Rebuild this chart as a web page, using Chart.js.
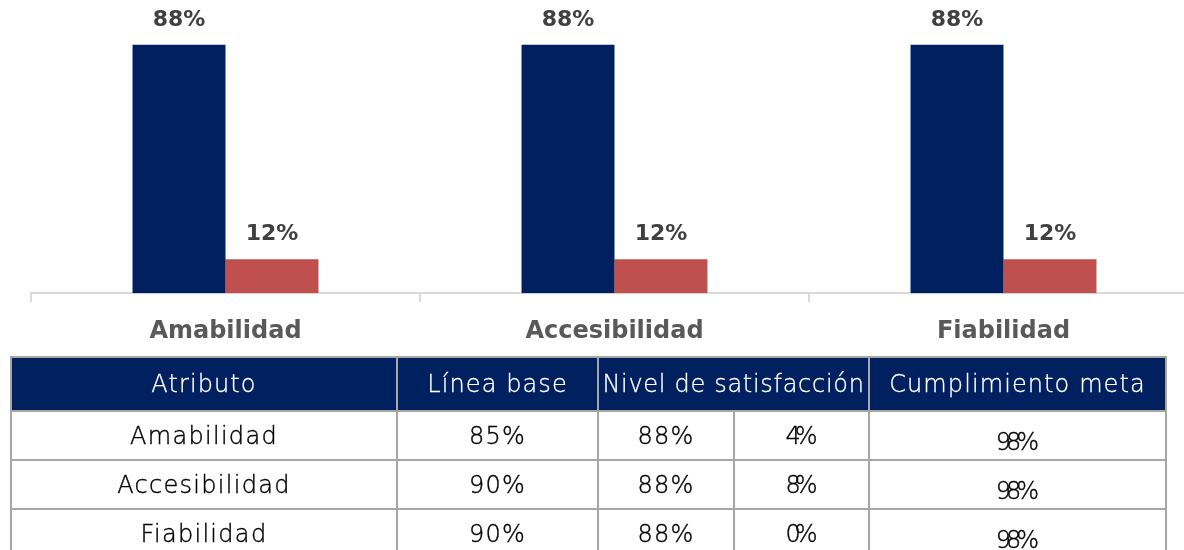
<!DOCTYPE html>
<html>
<head>
<meta charset="utf-8">
<script src="https://cdn.jsdelivr.net/npm/chart.js@4/dist/chart.umd.min.js"></script>
<style>
  html, body { margin:0; padding:0; background:#fff; overflow:hidden; width:1184px; height:550px; }
  #wrap { position:absolute; left:0; top:0; width:1200px; height:370px; }
  table { position:absolute; left:10px; top:356px; border-collapse:collapse; table-layout:fixed;
          font-family:"DejaVu Sans", sans-serif; font-weight:200; font-size:24px; letter-spacing:1.3px; color:#000; }
  td, th { border:2px solid #a6a6a6; text-align:center; padding:0; white-space:nowrap; font-weight:200; }
  td { -webkit-text-stroke:0.4px #000; height:47px; }
  th { background:#002060; color:#fff; height:52px; letter-spacing:1.1px; -webkit-text-stroke:0.3px #fff; }
  td.sq { letter-spacing:-6px; padding-right:6px; }
  td.low { letter-spacing:-5px; padding-right:5px; padding-top:12px; height:35px; }
</style>
</head>
<body>
<div id="wrap"><canvas id="c"></canvas></div>
<table id="t"></table>
<script>
// ---- chart data ----
const categories = ["Amabilidad", "Accesibilidad", "Fiabilidad"];
const satisfechos = [0.88, 0.88, 0.88];
const noSatisfechos = [0.12, 0.12, 0.12];

// ---- table data ----
const tableHeaders = ["Atributo", "Línea base", "Nivel de satisfacción", "Cumplimiento meta"];
const atributos = ["Amabilidad", "Accesibilidad", "Fiabilidad"];
const lineaBase = ["85%", "90%", "90%"];
const nivelSatisfaccion = ["88%", "88%", "88%"];
const diferencia = ["4%", "8%", "0%"];
const cumplimientoMeta = ["98%", "98%", "98%"];

const valueLabels = {
  id: 'valueLabels',
  afterDatasetsDraw(chart) {
    const ctx = chart.ctx;
    ctx.save();
    ctx.font = 'bold 22px "DejaVu Sans", sans-serif';
    ctx.fillStyle = '#404040';
    ctx.textAlign = 'center';
    ctx.textBaseline = 'middle';
    chart.data.datasets.forEach((ds, i) => {
      chart.getDatasetMeta(i).data.forEach((bar, j) => {
        ctx.fillText(Math.round(ds.data[j] * 100) + '%', bar.x, bar.y - 25);
      });
    });
    ctx.restore();
  }
};

new Chart(document.getElementById('c'), {
  type: 'bar',
  data: {
    labels: categories,
    datasets: [
      { data: satisfechos, backgroundColor: '#002060', barPercentage: 1, categoryPercentage: 0.478 },
      { data: noSatisfechos, backgroundColor: '#C0504D', barPercentage: 1, categoryPercentage: 0.478 }
    ]
  },
  options: {
    responsive: true,
    maintainAspectRatio: false,
    animation: false,
    layout: { padding: { left: 31, right: 2, top: 11, bottom: 9 } },
    plugins: { legend: { display: false }, tooltip: { enabled: false } },
    scales: {
      y: { display: false, min: 0, max: 1 },
      x: {
        grid: { offset: true, drawOnChartArea: false, tickLength: 9, color: '#d9d9d9', lineWidth: 2 },
        border: { color: '#d9d9d9', width: 2 },
        ticks: { color: '#595959', padding: 15, font: { family: '"DejaVu Sans", sans-serif', size: 24, weight: 'bold' } }
      }
    }
  },
  plugins: [valueLabels]
});

// ---- table ----
const t = document.getElementById('t');
const colW = [386, 201, 136, 135, 297];
let html = '<colgroup>' + colW.map(w => '<col style="width:' + w + 'px">').join('') + '</colgroup>';
html += '<tr><th>' + tableHeaders[0] + '</th><th>' + tableHeaders[1] + '</th><th colspan="2" style="letter-spacing:0.7px">' +
        tableHeaders[2] + '</th><th>' + tableHeaders[3] + '</th></tr>';
for (let i = 0; i < atributos.length; i++) {
  html += '<tr><td>' + atributos[i] + '</td><td>' + lineaBase[i] + '</td><td>' + nivelSatisfaccion[i] +
          '</td><td class="sq">' + diferencia[i] + '</td><td class="low">' + cumplimientoMeta[i] + '</td></tr>';
}
t.innerHTML = html;
</script>
</body>
</html>
